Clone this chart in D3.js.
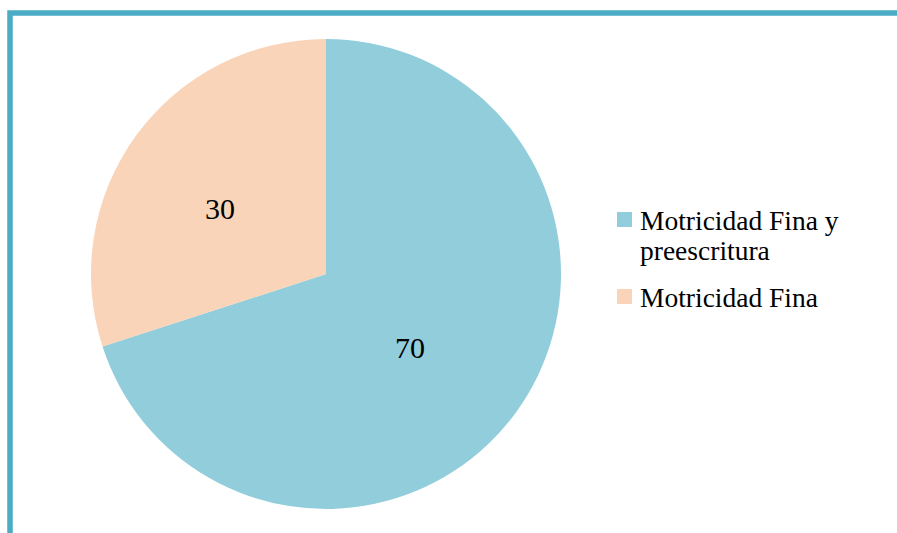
<!DOCTYPE html>
<html>
<head>
<meta charset="utf-8">
<script src="https://cdn.jsdelivr.net/npm/d3@7"></script>
</head>
<body style="margin:0">
<script>
const categories = ["Motricidad Fina y preescritura", "Motricidad Fina"]
const values = [70, 30]
const colors = ["#92CDDC", "#FAD4B8"]
const legendLines = [["Motricidad Fina y", "preescritura"], ["Motricidad Fina"]]

const FONT = "\"Times New Roman\", \"Liberation Serif\", Tinos, \"DejaVu Serif\""
const WIDTH = 897
const HEIGHT = 533
const CENTER = { X: 326, Y: 274 }
const RADIUS = 235

const svg = d3.select("body").append("svg")
  .attr("width", WIDTH)
  .attr("height", HEIGHT)
  .style("font-family", FONT)

// frame (top and left visible)
svg.append("rect")
  .attr("x", 10)
  .attr("y", 13)
  .attr("width", WIDTH + 20)
  .attr("height", HEIGHT + 20)
  .attr("fill", "none")
  .attr("stroke", "#4BACC6")
  .attr("stroke-width", 5.5)

const data = categories.map((c, i) => ({ name: c, value: values[i], color: colors[i] }))

const pie = d3.pie()
  .sort(null)
  .value(d => d.value)

const arc = d3.arc()
  .innerRadius(0)
  .outerRadius(RADIUS)

const g = svg.append("g")
  .attr("transform", `translate(${CENTER.X}, ${CENTER.Y})`)

const arcs = pie(data)

g.selectAll("path")
  .data(arcs)
  .enter().append("path")
    .attr("d", arc)
    .attr("fill", d => d.data.color)

// labels sit a little left/below of the centroid, like the original
g.selectAll("text.label")
  .data(arcs)
  .enter().append("text")
    .attr("class", "label")
    .attr("x", d => arc.centroid(d)[0] - 11)
    .attr("y", d => arc.centroid(d)[1] + 4)
    .attr("text-anchor", "middle")
    .attr("dy", "0.35em")
    .attr("font-family", FONT)
    .style("font-family", FONT)
    .style("font-size", "30px")
    .text(d => d.data.value)

// legend
let baseline = 230
data.forEach((d, i) => {
  svg.append("rect")
    .attr("x", 617)
    .attr("y", baseline - 18)
    .attr("width", 15)
    .attr("height", 15)
    .attr("fill", d.color)
  legendLines[i].forEach((line, j) => {
    svg.append("text")
      .attr("x", 640)
      .attr("y", baseline + j * 30)
      .attr("font-family", FONT)
      .style("font-family", FONT)
      .style("font-size", "27.5px")
      .text(line)
  })
  baseline += legendLines[i].length * 30 + 17
})
</script>
</body>
</html>
